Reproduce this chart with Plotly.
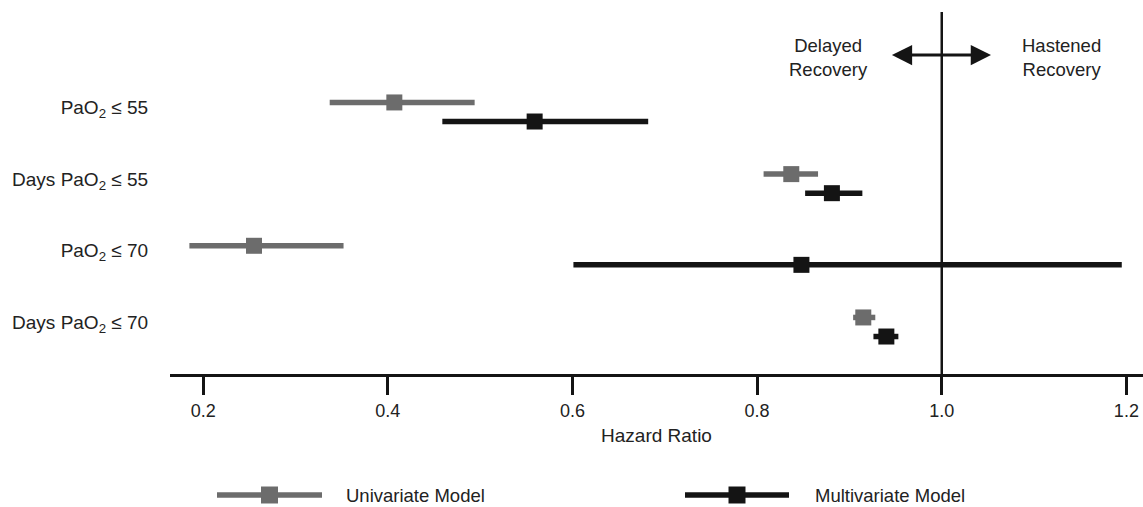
import plotly.graph_objects as go

# ---- data ----
categories = ["PaO<sub>2</sub> ≤ 55", "Days PaO<sub>2</sub> ≤ 55",
              "PaO<sub>2</sub> ≤ 70", "Days PaO<sub>2</sub> ≤ 70"]
uni_hr = [0.407, 0.837, 0.255, 0.915]
uni_lo = [0.337, 0.807, 0.185, 0.904]
uni_hi = [0.494, 0.866, 0.352, 0.928]
multi_hr = [0.559, 0.881, 0.848, 0.940]
multi_lo = [0.459, 0.852, 0.601, 0.926]
multi_hi = [0.682, 0.914, 1.195, 0.953]
x_ticks = [0.2, 0.4, 0.6, 0.8, 1.0, 1.2]
series_names = ["Univariate Model", "Multivariate Model"]

GREY = "#6c6c6c"
BLACK = "#141414"
TXT = "#222222"
FONT = "Liberation Sans, Arial, sans-serif"

rows = list(range(len(categories)))
off = 0.133

fig = go.Figure()
for name, hr, lo, hi, col, sgn in [
    (series_names[0], uni_hr, uni_lo, uni_hi, GREY, -1),
    (series_names[1], multi_hr, multi_lo, multi_hi, BLACK, 1),
]:
    fig.add_trace(go.Scatter(
        x=hr,
        y=[r + sgn * off for r in rows],
        mode="markers",
        name=name,
        marker=dict(symbol="square", size=16, color=col, line=dict(width=0)),
        error_x=dict(type="data", symmetric=False,
                     array=[h - e for h, e in zip(hi, hr)],
                     arrayminus=[e - l for e, l in zip(hr, lo)],
                     thickness=5.5, width=0, color=col),
        showlegend=False,
    ))

# reference line at HR = 1
fig.add_shape(type="line", xref="x", yref="paper", x0=1.0, x1=1.0, y0=0, y1=1,
              line=dict(color=BLACK, width=2.5), layer="below")

# double arrow
fig.add_annotation(x=0.946, y=0.881, xref="x", yref="paper",
                   ax=1.055, ay=0, axref="x", ayref="pixel",
                   text="", showarrow=True, arrowhead=2, startarrowhead=2,
                   arrowside="end+start", arrowwidth=3, arrowsize=1.35,
                   startarrowsize=1.35, arrowcolor=BLACK, standoff=0, startstandoff=0)
fig.add_annotation(x=0.877, y=0.873, xref="x", yref="paper",
                   xanchor="center", yanchor="middle",
                   text="Delayed<br>Recovery", showarrow=False,
                   font=dict(size=18.5, color=TXT, family=FONT), align="center")
fig.add_annotation(x=1.130, y=0.873, xref="x", yref="paper",
                   xanchor="center", yanchor="middle",
                   text="Hastened<br>Recovery", showarrow=False,
                   font=dict(size=18.5, color=TXT, family=FONT), align="center")

# custom legend (wide keys); coordinates relative to plot area
def px_x(p):
    return (p - 170) / 973.0

def px_y(p):
    return (374 - p) / 362.0

for name, col, x0, x1, xt in [(series_names[0], GREY, 217, 322, 344),
                              (series_names[1], BLACK, 685, 789, 813)]:
    xc = (x0 + x1) / 2
    fig.add_shape(type="line", xref="paper", yref="paper",
                  x0=px_x(x0), x1=px_x(x1), y0=px_y(495), y1=px_y(495),
                  line=dict(color=col, width=5.5))
    fig.add_shape(type="rect", xref="paper", yref="paper",
                  x0=px_x(xc - 8.5), x1=px_x(xc + 8.5),
                  y0=px_y(503.5), y1=px_y(486.5),
                  fillcolor=col, line=dict(width=0))
    fig.add_annotation(x=px_x(xt), y=px_y(495), xref="paper", yref="paper",
                       text=name, showarrow=False, xanchor="left", yanchor="middle",
                       font=dict(size=18.5, color=TXT, family=FONT))

fig.update_layout(
    width=1143, height=507,
    margin=dict(l=170, r=0, t=12, b=133),
    paper_bgcolor="white", plot_bgcolor="white",
    font=dict(family=FONT, size=18, color=TXT),
    showlegend=False,
    xaxis=dict(range=[0.164, 1.218], tickvals=x_ticks,
               ticktext=[f"{v:.1f}" for v in x_ticks],
               showline=True, linecolor=BLACK, linewidth=3,
               ticks="outside", ticklen=18, tickwidth=3, tickcolor=BLACK,
               showgrid=False, zeroline=False,
               tickfont=dict(size=18, color=TXT, family=FONT),
               title=dict(text="Hazard Ratio", standoff=10,
                          font=dict(size=19, color=TXT, family=FONT))),
    yaxis=dict(range=[3.656, -1.395], tickvals=[r - 0.065 for r in rows],
               ticktext=categories,
               showline=False, showgrid=False, zeroline=False,
               ticks="outside", ticklen=17, tickcolor="rgba(0,0,0,0)",
               tickfont=dict(size=19, color=TXT, family=FONT)),
)

fig.write_html(
    "out.html",
    config={"displayModeBar": False},
    post_script="document.body.style.margin='0';document.body.style.overflow='hidden';",
)
